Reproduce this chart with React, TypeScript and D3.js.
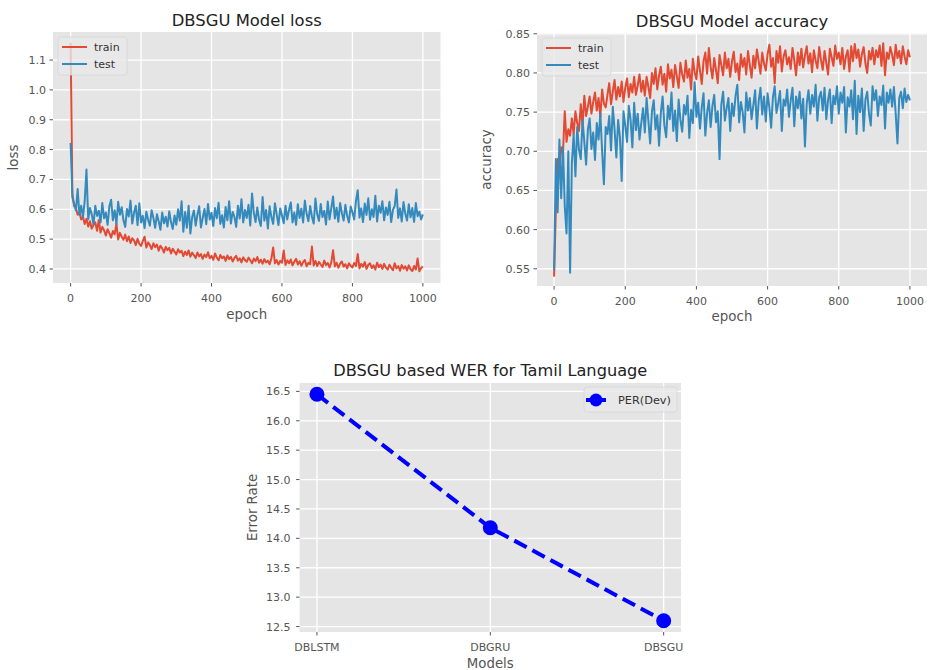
import React from "react";
import * as d3 from "d3";

// ---------- data ----------
const EPOCH_STEP = 5; // one value every 5 epochs, epochs 0..1000

const LOSS_TRAIN = [
  1.158, 0.652, 0.611, 0.604, 0.582, 0.590, 0.566, 0.575, 0.551, 0.568,
  0.542, 0.560, 0.535, 0.548, 0.556, 0.528, 0.564, 0.522, 0.541, 0.530,
  0.512, 0.533, 0.520, 0.505, 0.527, 0.516, 0.552, 0.499, 0.521, 0.508,
  0.498, 0.515, 0.493, 0.509, 0.487, 0.503, 0.496, 0.480, 0.501, 0.485,
  0.477, 0.494, 0.508, 0.472, 0.489, 0.480, 0.467, 0.486, 0.473, 0.482,
  0.461, 0.478, 0.469, 0.455, 0.474, 0.463, 0.471, 0.452, 0.468, 0.458,
  0.449, 0.466, 0.455, 0.461, 0.443, 0.458, 0.447, 0.462, 0.441, 0.455,
  0.446, 0.437, 0.455, 0.442, 0.450, 0.434, 0.448, 0.440, 0.456, 0.436,
  0.444, 0.431, 0.452, 0.438, 0.429, 0.447, 0.436, 0.442, 0.427, 0.445,
  0.433, 0.441, 0.425, 0.437, 0.444, 0.428, 0.436, 0.422, 0.439, 0.430,
  0.424, 0.438, 0.429, 0.419, 0.435, 0.426, 0.440, 0.421, 0.431, 0.418,
  0.433, 0.422, 0.428, 0.416, 0.436, 0.472, 0.419, 0.430, 0.415, 0.427,
  0.421, 0.462, 0.414, 0.429, 0.419, 0.432, 0.412, 0.424, 0.434, 0.415,
  0.426, 0.411, 0.423, 0.430, 0.409, 0.421, 0.416, 0.475, 0.412, 0.427,
  0.410, 0.424, 0.415, 0.407, 0.428, 0.413, 0.420, 0.405, 0.422, 0.463,
  0.409, 0.421, 0.404, 0.418, 0.425, 0.408, 0.416, 0.402, 0.419, 0.411,
  0.405, 0.420, 0.410, 0.450, 0.402, 0.417, 0.408, 0.423, 0.400, 0.414,
  0.419, 0.403, 0.412, 0.398, 0.421, 0.406, 0.415, 0.400, 0.417, 0.405,
  0.398, 0.414, 0.404, 0.396, 0.419, 0.402, 0.410, 0.394, 0.413, 0.401,
  0.409, 0.395, 0.412, 0.399, 0.393, 0.410, 0.398, 0.435, 0.392, 0.403,
  0.408,
];

const LOSS_TEST = [
  0.822, 0.640, 0.618, 0.596, 0.668, 0.581, 0.612, 0.573, 0.627, 0.733,
  0.566, 0.604, 0.583, 0.549, 0.612, 0.578, 0.595, 0.556, 0.621, 0.570,
  0.589, 0.548, 0.610, 0.632, 0.563, 0.597, 0.551, 0.625, 0.582, 0.607,
  0.563, 0.541, 0.601, 0.576, 0.629, 0.552, 0.588, 0.612, 0.547, 0.620,
  0.556, 0.578, 0.537, 0.592, 0.565, 0.545, 0.597, 0.571, 0.538, 0.583,
  0.560, 0.531, 0.589, 0.553, 0.575, 0.542, 0.593, 0.557, 0.534, 0.579,
  0.548, 0.600, 0.562, 0.627, 0.525, 0.591, 0.538, 0.612, 0.519, 0.573,
  0.596, 0.545, 0.582, 0.610, 0.539, 0.571, 0.601, 0.550, 0.618, 0.566,
  0.588, 0.544, 0.604, 0.570, 0.622, 0.551, 0.580, 0.539, 0.608, 0.563,
  0.627, 0.552, 0.591, 0.575, 0.541, 0.612, 0.569, 0.634, 0.556, 0.598,
  0.571, 0.615, 0.546, 0.653, 0.589, 0.557, 0.606, 0.565, 0.544, 0.641,
  0.562, 0.598, 0.536, 0.610, 0.574, 0.551, 0.620, 0.583, 0.547, 0.603,
  0.579, 0.553, 0.612, 0.566, 0.598, 0.623, 0.556, 0.589, 0.548, 0.617,
  0.571, 0.602, 0.556, 0.629, 0.585, 0.560, 0.611, 0.575, 0.552, 0.636,
  0.583, 0.561, 0.618, 0.574, 0.595, 0.549, 0.626, 0.566, 0.604, 0.643,
  0.569, 0.605, 0.558, 0.621, 0.587, 0.562, 0.615, 0.578, 0.556, 0.609,
  0.590, 0.566, 0.628, 0.664, 0.572, 0.603, 0.557, 0.619, 0.581, 0.637,
  0.565, 0.600, 0.574, 0.645, 0.559, 0.612, 0.588, 0.627, 0.563, 0.606,
  0.581, 0.625, 0.557, 0.598, 0.611, 0.666, 0.571, 0.603, 0.559, 0.624,
  0.586, 0.562, 0.617, 0.573, 0.604, 0.558, 0.621, 0.577, 0.592, 0.566,
  0.583,
];

const ACC_TRAIN = [
  0.540, 0.625, 0.690, 0.672, 0.705, 0.698, 0.751, 0.712, 0.728, 0.720,
  0.742, 0.722, 0.751, 0.736, 0.726, 0.760, 0.733, 0.771, 0.745, 0.757,
  0.770, 0.748, 0.763, 0.775, 0.752, 0.768, 0.744, 0.779, 0.761, 0.756,
  0.772, 0.787, 0.760, 0.776, 0.791, 0.766, 0.782, 0.770, 0.789, 0.763,
  0.781, 0.793, 0.769, 0.786, 0.775, 0.795, 0.772, 0.784, 0.798, 0.776,
  0.790, 0.771, 0.795, 0.782, 0.768, 0.800, 0.786, 0.806, 0.779, 0.797,
  0.808, 0.785, 0.799, 0.776, 0.811, 0.793, 0.804, 0.782, 0.810, 0.796,
  0.781, 0.813, 0.798, 0.789, 0.816, 0.794, 0.805, 0.779, 0.818, 0.801,
  0.792, 0.821, 0.803, 0.786, 0.815, 0.826, 0.799, 0.832, 0.808, 0.793,
  0.819, 0.804, 0.787, 0.823, 0.810, 0.797, 0.826, 0.806, 0.818, 0.795,
  0.815, 0.827, 0.801, 0.812, 0.791, 0.824, 0.808, 0.819, 0.798, 0.828,
  0.810, 0.794, 0.822, 0.806, 0.830, 0.815, 0.799, 0.826, 0.812, 0.803,
  0.824, 0.836, 0.808, 0.819, 0.787, 0.828, 0.813, 0.834, 0.802, 0.821,
  0.829, 0.811, 0.820, 0.805, 0.832, 0.816, 0.797, 0.826, 0.810, 0.831,
  0.807, 0.822, 0.834, 0.812, 0.825, 0.801, 0.829, 0.816, 0.806, 0.833,
  0.817, 0.804, 0.828, 0.813, 0.798, 0.831, 0.820, 0.809, 0.835, 0.818,
  0.826, 0.811, 0.832, 0.805, 0.821, 0.829, 0.802, 0.834, 0.815, 0.837,
  0.819, 0.830, 0.808, 0.824, 0.833, 0.812, 0.800, 0.828, 0.817, 0.832,
  0.811, 0.829, 0.820, 0.835, 0.809, 0.838, 0.797, 0.826, 0.818, 0.833,
  0.823, 0.810, 0.836, 0.819, 0.828, 0.812, 0.834, 0.821, 0.811, 0.829,
  0.820,
];

const ACC_TEST = [
  0.548, 0.690, 0.622, 0.715, 0.640, 0.705, 0.630, 0.595, 0.700, 0.545,
  0.685, 0.722, 0.668, 0.731, 0.702, 0.690, 0.740, 0.712, 0.683, 0.728,
  0.742, 0.703, 0.724, 0.689, 0.736, 0.715, 0.748, 0.700, 0.658, 0.731,
  0.722, 0.745, 0.701, 0.757, 0.728, 0.692, 0.740, 0.718, 0.662, 0.751,
  0.733, 0.712, 0.758, 0.740, 0.705, 0.762, 0.727, 0.748, 0.715, 0.736,
  0.755, 0.724, 0.768, 0.739, 0.710, 0.751, 0.765, 0.728, 0.746, 0.707,
  0.749, 0.770, 0.733, 0.718, 0.758, 0.741, 0.775, 0.726, 0.752, 0.713,
  0.766, 0.740, 0.725, 0.759, 0.747, 0.771, 0.717, 0.753, 0.736, 0.788,
  0.744, 0.762, 0.729, 0.756, 0.774, 0.720, 0.749, 0.765, 0.731, 0.758,
  0.772, 0.737, 0.751, 0.690, 0.760, 0.776, 0.739, 0.755, 0.768, 0.726,
  0.761, 0.745, 0.771, 0.785, 0.737, 0.763, 0.750, 0.724, 0.775, 0.752,
  0.768, 0.741, 0.759, 0.778, 0.729, 0.764, 0.781, 0.747, 0.770, 0.738,
  0.774, 0.756, 0.730, 0.769, 0.783, 0.749, 0.762, 0.777, 0.726, 0.766,
  0.758, 0.779, 0.744, 0.765, 0.781, 0.732, 0.770, 0.755, 0.776, 0.742,
  0.767, 0.706, 0.761, 0.778, 0.748, 0.772, 0.757, 0.785, 0.739, 0.769,
  0.776, 0.752, 0.781, 0.741, 0.766, 0.779, 0.736, 0.771, 0.760, 0.783,
  0.748, 0.775, 0.762, 0.782, 0.724, 0.769, 0.757, 0.778, 0.741, 0.790,
  0.722, 0.771, 0.750, 0.780, 0.726, 0.766, 0.776, 0.748, 0.733, 0.783,
  0.765, 0.778, 0.745, 0.770, 0.759, 0.784, 0.729, 0.775, 0.762, 0.779,
  0.757, 0.782, 0.748, 0.710, 0.768, 0.776, 0.755, 0.780, 0.763, 0.772,
  0.765,
];

const EPOCH_TICKS = [0, 200, 400, 600, 800, 1000];
const LOSS_TICKS = [0.4, 0.5, 0.6, 0.7, 0.8, 0.9, 1.0, 1.1];
const ACC_TICKS = [0.55, 0.6, 0.65, 0.7, 0.75, 0.8, 0.85];

const MODELS = ["DBLSTM", "DBGRU", "DBSGU"];
const WER_VALUES = [16.45, 14.18, 12.6];
const WER_TICKS = [12.5, 13.0, 13.5, 14.0, 14.5, 15.0, 15.5, 16.0, 16.5];

// ---------- style ----------
const RED = "#E24A33";
const BLUE = "#348ABD";
const BG = "#E5E5E5";
const TICK_COLOR = "#555555";
const FONT = "'DejaVu Sans', sans-serif";
const LW = 2;

type PanelProps = {
  id: string;
  left: number; right: number; top: number; bottom: number;
  xDom: [number, number]; yDom: [number, number];
  yTicks: number[]; yFmt: (v: number) => string;
  train: number[]; test: number[];
  title: string; titleY: number;
  ylabel: string; ylabelX: number;
  xTickY: number; xLabelY: number;
};

function EpochPanel(p: PanelProps) {
  const x = d3.scaleLinear().domain(p.xDom).range([p.left, p.right]);
  const y = d3.scaleLinear().domain(p.yDom).range([p.bottom, p.top]);
  const line = d3
    .line<number>()
    .x((_, i) => x(i * EPOCH_STEP))
    .y((d) => y(d));
  const cx = (p.left + p.right) / 2;
  const cy = (p.top + p.bottom) / 2;
  const lgX = p.left + 5;
  const lgY = p.top + 5;
  return (
    <g>
      <defs>
        <clipPath id={p.id}>
          <rect x={p.left} y={p.top} width={p.right - p.left} height={p.bottom - p.top} />
        </clipPath>
      </defs>
      <rect x={p.left} y={p.top} width={p.right - p.left} height={p.bottom - p.top} fill={BG} />
      {EPOCH_TICKS.map((t) => (
        <line key={"gx" + t} x1={x(t)} x2={x(t)} y1={p.top} y2={p.bottom} stroke="#fff" strokeWidth={1.3} />
      ))}
      {p.yTicks.map((t) => (
        <line key={"gy" + t} x1={p.left} x2={p.right} y1={y(t)} y2={y(t)} stroke="#fff" strokeWidth={1.3} />
      ))}
      <g clipPath={`url(#${p.id})`}>
        <path d={line(p.train) || ""} fill="none" stroke={RED} strokeWidth={LW} strokeLinejoin="round" />
        <path d={line(p.test) || ""} fill="none" stroke={BLUE} strokeWidth={LW} strokeLinejoin="round" />
      </g>
      {EPOCH_TICKS.map((t) => (
        <g key={"tx" + t}>
          <line x1={x(t)} x2={x(t)} y1={p.bottom} y2={p.bottom + 3.5} stroke={TICK_COLOR} strokeWidth={1} />
          <text x={x(t)} y={p.xTickY} textAnchor="middle" fontSize={11} fill={TICK_COLOR} fontFamily={FONT}>
            {t}
          </text>
        </g>
      ))}
      {p.yTicks.map((t) => (
        <g key={"ty" + t}>
          <line x1={p.left - 3.5} x2={p.left} y1={y(t)} y2={y(t)} stroke={TICK_COLOR} strokeWidth={1} />
          <text x={p.left - 7} y={y(t) + 4} textAnchor="end" fontSize={11} fill={TICK_COLOR} fontFamily={FONT}>
            {p.yFmt(t)}
          </text>
        </g>
      ))}
      <text x={cx} y={p.titleY} textAnchor="middle" fontSize={16.4} fill="#222" fontFamily={FONT}>
        {p.title}
      </text>
      <text x={cx} y={p.xLabelY} textAnchor="middle" fontSize={13.4} fill={TICK_COLOR} fontFamily={FONT}>
        epoch
      </text>
      <text
        transform={`translate(${p.ylabelX},${cy}) rotate(-90)`}
        textAnchor="middle"
        fontSize={13.4}
        fill={TICK_COLOR}
        fontFamily={FONT}
      >
        {p.ylabel}
      </text>
      <rect x={lgX} y={lgY} width={69} height={38} rx={3} fill="#E8E8E8" fillOpacity={0.8} stroke="#D6D6D6" strokeWidth={0.8} />
      <line x1={lgX + 4} x2={lgX + 29} y1={lgY + 10} y2={lgY + 10} stroke={RED} strokeWidth={LW} />
      <line x1={lgX + 4} x2={lgX + 29} y1={lgY + 27} y2={lgY + 27} stroke={BLUE} strokeWidth={LW} />
      <text x={lgX + 36} y={lgY + 14} fontSize={11} fill="#333" fontFamily={FONT}>train</text>
      <text x={lgX + 36} y={lgY + 31} fontSize={11} fill="#333" fontFamily={FONT}>test</text>
    </g>
  );
}

function WerPanel() {
  const left = 299.6, right = 681, top = 383, bottom = 632;
  const x = d3.scaleLinear().domain([-0.1, MODELS.length - 1 + 0.1]).range([left, right]);
  const y = d3.scaleLinear().domain([12.4075, 16.6425]).range([bottom, top]);
  const line = d3
    .line<number>()
    .x((_, i) => x(i))
    .y((d) => y(d));
  const fmt = d3.format(".1f");
  const cx = (left + right) / 2;
  const cy = (top + bottom) / 2;
  return (
    <g>
      <rect x={left} y={top} width={right - left} height={bottom - top} fill={BG} />
      {MODELS.map((m, i) => (
        <line key={"gx" + m} x1={x(i)} x2={x(i)} y1={top} y2={bottom} stroke="#fff" strokeWidth={1.3} />
      ))}
      {WER_TICKS.map((t) => (
        <line key={"gy" + t} x1={left} x2={right} y1={y(t)} y2={y(t)} stroke="#fff" strokeWidth={1.3} />
      ))}
      <path d={line(WER_VALUES) || ""} fill="none" stroke="#0000FF" strokeWidth={4} strokeDasharray="14,6.5" />
      {WER_VALUES.map((v, i) => (
        <circle key={"pt" + i} cx={x(i)} cy={y(v)} r={7.5} fill="#0000FF" />
      ))}
      {MODELS.map((m, i) => (
        <g key={"tx" + m}>
          <line x1={x(i)} x2={x(i)} y1={bottom} y2={bottom + 3.5} stroke={TICK_COLOR} strokeWidth={1} />
          <text x={x(i)} y={651} textAnchor="middle" fontSize={11} fill={TICK_COLOR} fontFamily={FONT}>
            {m}
          </text>
        </g>
      ))}
      {WER_TICKS.map((t) => (
        <g key={"ty" + t}>
          <line x1={left - 3.5} x2={left} y1={y(t)} y2={y(t)} stroke={TICK_COLOR} strokeWidth={1} />
          <text x={left - 9} y={y(t) + 4} textAnchor="end" fontSize={11} fill={TICK_COLOR} fontFamily={FONT}>
            {fmt(t)}
          </text>
        </g>
      ))}
      <text x={cx} y={376} textAnchor="middle" fontSize={16.2} fill="#222" fontFamily={FONT}>
        DBSGU based WER for Tamil Language
      </text>
      <text x={cx} y={668} textAnchor="middle" fontSize={13.3} fill={TICK_COLOR} fontFamily={FONT}>
        Models
      </text>
      <text
        transform={`translate(257,${cy}) rotate(-90)`}
        textAnchor="middle"
        fontSize={13.3}
        fill={TICK_COLOR}
        fontFamily={FONT}
      >
        Error Rate
      </text>
      <rect x={584} y={387} width={93} height={25} rx={3} fill="#E8E8E8" fillOpacity={0.8} stroke="#D6D6D6" strokeWidth={0.8} />
      <line x1={586} x2={606} y1={400} y2={400} stroke="#0000FF" strokeWidth={4} />
      <circle cx={596} cy={400} r={6.5} fill="#0000FF" />
      <text x={618} y={404} fontSize={11.3} fill="#333" fontFamily={FONT}>PER(Dev)</text>
    </g>
  );
}

export default function App() {
  return (
    <svg
      width={929}
      height={670}
      style={{ position: "absolute", left: 0, top: 0, background: "#fff" }}
    >
      <EpochPanel
        id="clipLoss"
        left={53} right={440.5} top={32} bottom={283}
        xDom={[-50, 1050]} yDom={[0.353, 1.194]}
        yTicks={LOSS_TICKS} yFmt={d3.format(".1f")}
        train={LOSS_TRAIN} test={LOSS_TEST}
        title="DBSGU Model loss" titleY={26}
        ylabel="loss" ylabelX={17.5}
        xTickY={302} xLabelY={319}
      />
      <EpochPanel
        id="clipAcc"
        left={537} right={927} top={33} bottom={286}
        xDom={[-48, 1048]} yDom={[0.528, 0.851]}
        yTicks={ACC_TICKS} yFmt={d3.format(".2f")}
        train={ACC_TRAIN} test={ACC_TEST}
        title="DBSGU Model accuracy" titleY={26.5}
        ylabel="accuracy" ylabelX={491}
        xTickY={305} xLabelY={321}
      />
      <WerPanel />
    </svg>
  );
}
